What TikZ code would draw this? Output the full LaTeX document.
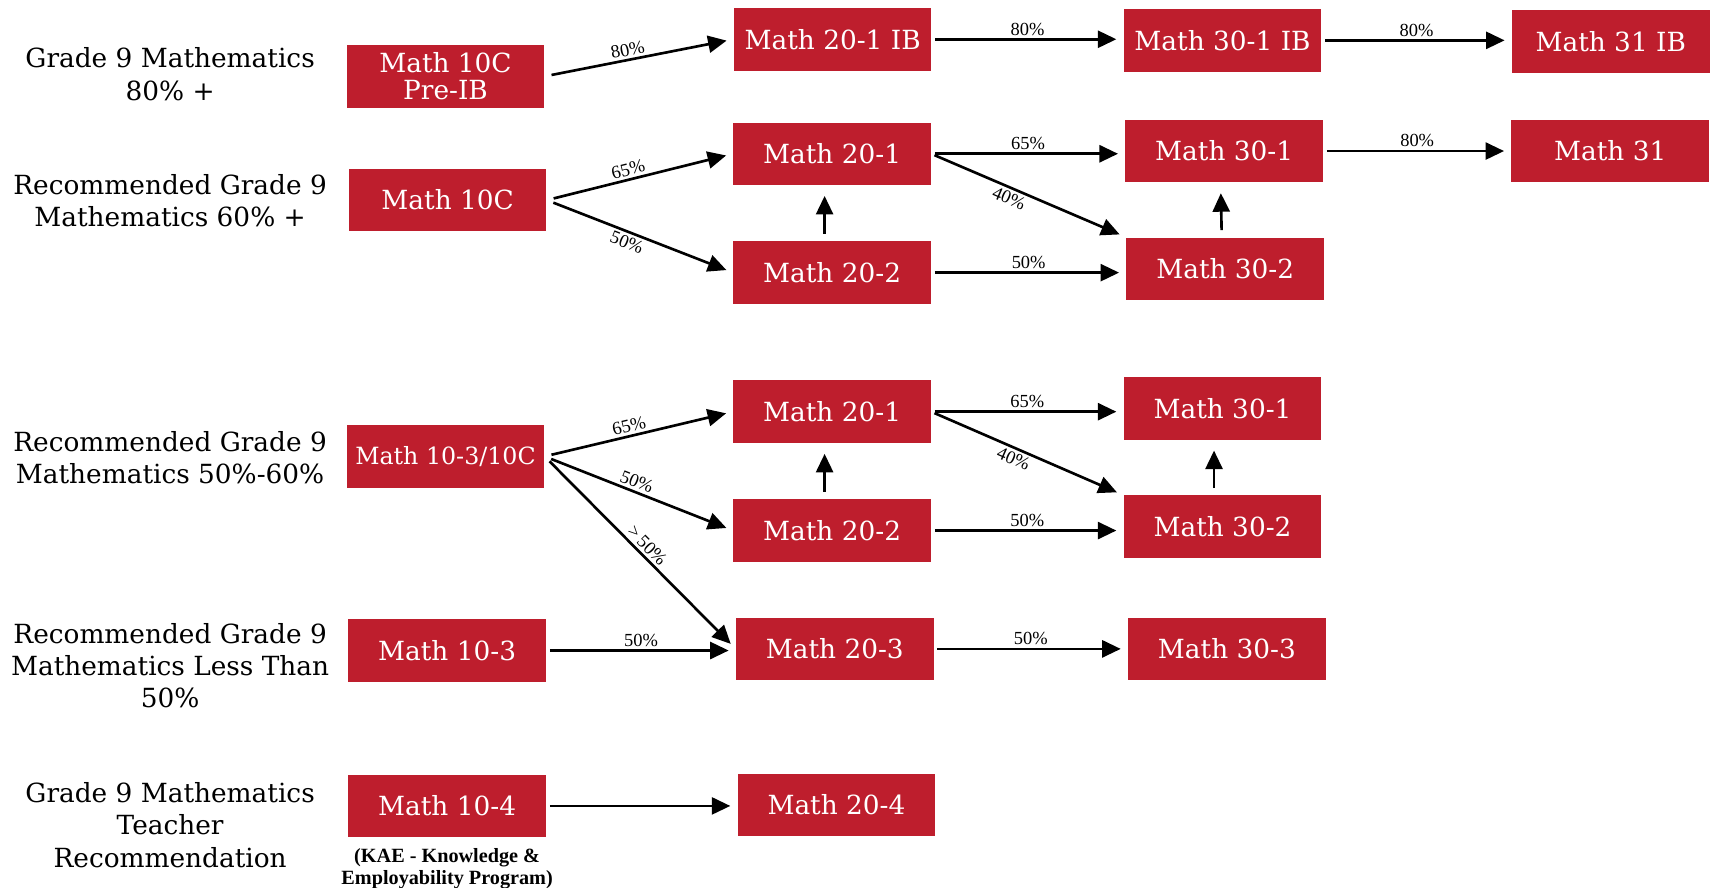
\documentclass[tikz,border=0pt]{standalone}
\usepackage{fontspec}
\setmainfont{DejaVu Serif}
\newfontfamily\pctserif{Liberation Serif}
\usetikzlibrary{arrows.meta, positioning}
\definecolor{mathred}{RGB}{190,30,45}
\tikzstyle{course} = [rectangle, fill=mathred, text=white, minimum width=3.95cm, minimum height=1.25cm, inner sep=0pt, align=center, font=\fontsize{15}{15.5}\selectfont]
\tikzstyle{arrow} = [line width=1.5pt, -{Triangle[length=0.37cm, width=0.34cm]}, shorten <=2pt, shorten >=4pt]

\begin{document}
\begin{tikzpicture}[
		x=0.0218cm, y=-0.0218cm,
		entry/.style={align=center, font=\fontsize{15}{18.3}\selectfont},
		pct/.style={font=\pctserif\fontsize{10.5}{11}\selectfont, inner sep=1.5pt},
		uparrow/.style={arrow, shorten <=4pt, shorten >=6pt},
		fanout/.style={arrow, shorten <=4pt},
		note/.style={align=center, font=\pctserif\bfseries\fontsize{11.5}{12.6}\selectfont}
		]
		\useasboundingbox (0,0) rectangle (1568,814);
		% Grade 9 results
		\node[entry] (critib) at (156,68) {Grade 9 Mathematics\\80\% +};
		\node[entry] (crit60) at (156,184) {Recommended Grade 9\\Mathematics 60\% +};
		\node[entry] (crit50) at (156,419.5) {Recommended Grade 9\\Mathematics 50\%-60\%};
		\node[entry] (critless) at (156,610.5) {Recommended Grade 9\\Mathematics Less Than\\50\%};
		\node[entry] (critteach) at (156,756.5) {Grade 9 Mathematics\\Teacher\\Recommendation};
		% IB route
		\node[course] (preib) at (408.5,70) {Math 10C\\Pre-IB};
		\node[course] (tw1ib) at (763.5,36) {Math 20-1 IB};
		\node[course] (th1ib) at (1121,37) {Math 30-1 IB};
		\node[course] (m31ib) at (1477,38) {Math 31 IB};
		% Math 10C route
		\node[course] (tenc) at (410.5,183.5) {Math 10C};
		\node[course] (tw1a) at (763,141) {Math 20-1};
		\node[course] (tw2a) at (763,250) {Math 20-2};
		\node[course] (th1a) at (1122.5,138.5) {Math 30-1};
		\node[course] (th2a) at (1123.5,246.5) {Math 30-2};
		\node[course] (m31) at (1476.5,138.5) {Math 31};
		% Math 10-3/10C route
		\node[course, font=\fontsize{13.5}{14}\selectfont] (tenmix) at (408.5,418.5) {Math 10-3/10C};
		\node[course] (tw1b) at (763,377.5) {Math 20-1};
		\node[course] (tw2b) at (763,486.5) {Math 20-2};
		\node[course] (th1b) at (1121,374.5) {Math 30-1};
		\node[course] (th2b) at (1121,483) {Math 30-2};
		% Math 10-3 route
		\node[course] (tenthree) at (410,596.5) {Math 10-3};
		\node[course] (tw3) at (765.5,595) {Math 20-3};
		\node[course] (th3) at (1125,595) {Math 30-3};
		% Math 10-4 route
		\node[course] (tenfour) at (410,739) {Math 10-4};
		\node[course] (tw4) at (767,738) {Math 20-4};
		\node[note, below=2.5pt of tenfour] (kae) {(KAE - Knowledge \&\\Employability Program)};

		% arrows
		\draw[fanout] (preib.east) -- node[pct, above, sloped, pos=0.45] {80\%} (tw1ib.west);
		\draw[arrow] (tw1ib.east) -- node[pct, above] {80\%} (tw1ib.east -| th1ib.west);
		\draw[arrow] (th1ib.east) -- node[pct, above] {80\%} (th1ib.east -| m31ib.west);

		\draw[fanout] (tenc.east) -- node[pct, above, sloped, pos=0.45] {65\%} (tw1a.west);
		\draw[fanout] (tenc.east) -- node[pct, below, sloped, pos=0.45] {50\%} (tw2a.west);
		\draw[arrow] (tw1a.east) -- node[pct, above] {65\%} (tw1a.east -| th1a.west);
		\draw[arrow] (tw1a.east) -- node[pct, below, sloped, pos=0.42] {40\%} (th2a.north west);
		\draw[arrow] (tw2a.east) -- node[pct, above] {50\%} (tw2a.east -| th2a.west);
		\draw[uparrow] ([xshift=-0.15cm]tw2a.north) -- ([xshift=-0.15cm]tw1a.south);
		\draw[uparrow] ([xshift=-0.07cm]th2a.north) -- ([xshift=-0.07cm]th1a.south);
		\draw[arrow] (th1a.east) -- node[pct, above] {80\%} (th1a.east -| m31.west);

		\draw[fanout] (tenmix.east) -- node[pct, above, sloped, pos=0.46] {65\%} (tw1b.west);
		\draw[fanout] (tenmix.east) -- node[pct, above, sloped, pos=0.47] {50\%} (tw2b.west);
		\draw[fanout] (tenmix.east) -- node[pct, above, sloped, pos=0.5] {>\,50\%} (tw3.west);
		\draw[arrow] (tw1b.east) -- node[pct, above] {65\%} (tw1b.east -| th1b.west);
		\draw[arrow] (tw1b.east) -- node[pct, below, sloped, pos=0.45] {40\%} (th2b.north west);
		\draw[arrow] (tw2b.east) -- node[pct, above] {50\%} (tw2b.east -| th2b.west);
		\draw[uparrow] ([xshift=-0.15cm]tw2b.north) -- ([xshift=-0.15cm]tw1b.south);
		\draw[uparrow] ([xshift=-0.17cm]th2b.north) -- ([xshift=-0.17cm]th1b.south);

		\draw[arrow] (tenthree.east) -- node[pct, above] {50\%} (tenthree.east -| tw3.west);
		\draw[arrow] (tw3.east) -- node[pct, above] {50\%} (tw3.east -| th3.west);

		\draw[arrow] (tenfour.east) -- (tenfour.east -| tw4.west);
\end{tikzpicture}
\end{document}
